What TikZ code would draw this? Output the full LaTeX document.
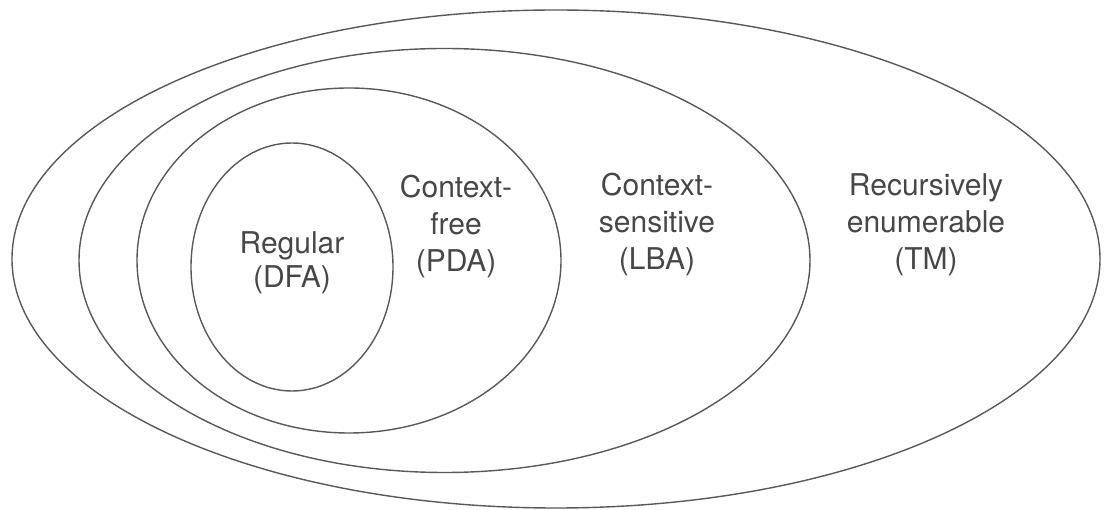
\documentclass[tikz,border=0pt]{standalone}
\usepackage{fontspec}
\setmainfont{TeX Gyre Heros}
\begin{document}
\begin{tikzpicture}[x=1pt,y=-1pt,
  ring/.style={draw=black!65,line width=1.4pt},
  lbl/.style={anchor=base,inner sep=0pt,text=black!72,font=\fontsize{30}{36}\selectfont}]
\useasboundingbox (0,0) rectangle (1104,510);
\draw[ring] (556,259) ellipse [x radius=544, y radius=249];
\draw[ring] (444.5,260.5) ellipse [x radius=365.5, y radius=212];
\draw[ring] (349,260.5) ellipse [x radius=212, y radius=172.5];
\draw[ring] (292,267) ellipse [x radius=101, y radius=124];
% Regular
\node[lbl] (reg1) at (292,254) {Regular};
\node[lbl] (reg2) at (292,288) {(DFA)};
% Context-free
\node[lbl] (cf1) at (456,198) {Context-};
\node[lbl] (cf2) at (456,235) {free};
\node[lbl] (cf3) at (456,272) {(PDA)};
% Context-sensitive
\node[lbl] (cs1) at (657,196) {Context-};
\node[lbl] (cs2) at (657,233) {sensitive};
\node[lbl] (cs3) at (657,270) {(LBA)};
% Recursively enumerable
\node[lbl] (re1) at (926,196) {Recursively};
\node[lbl] (re2) at (926,233) {enumerable};
\node[lbl] (re3) at (926,270) {(TM)};
\end{tikzpicture}
\end{document}
